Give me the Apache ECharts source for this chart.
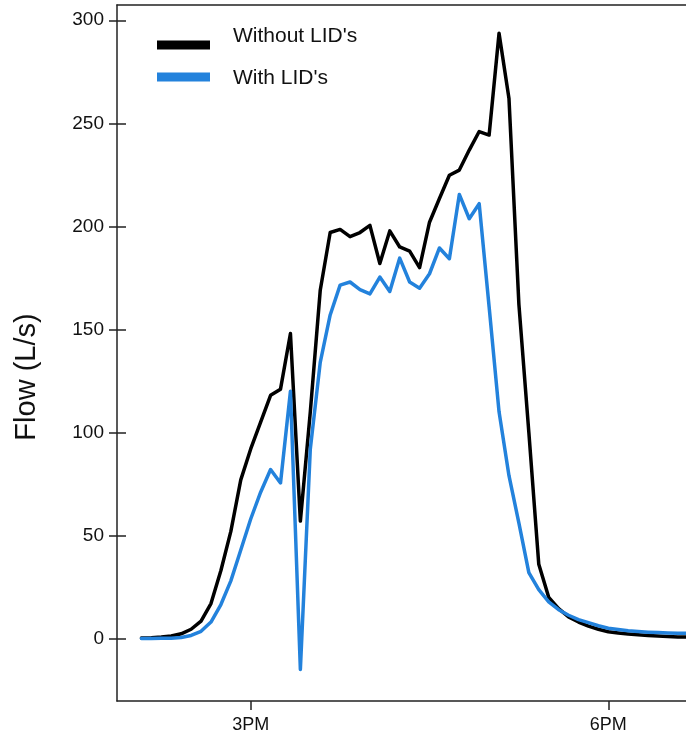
<!DOCTYPE html>
<html>
<head>
<meta charset="utf-8">
<script src="https://cdn.jsdelivr.net/npm/echarts@6/dist/echarts.min.js"></script>
<style>
html,body{margin:0;padding:0;background:#fff;}
#chart{width:686px;height:734px;}
</style>
</head>
<body>
<div id="chart"></div>
<script>
// minutes after 12:00 noon
const timeMinutes = [125,130,135,140,145,150,155,160,165,170,175,180,185,190,195,200,205,210,215,220,225,230,235,240,245,250,255,260,265,270,275,280,285,290,295,300,305,310,315,320,325,330,335,340,345,350,355,360,365,370,375,380,385,390,395,400];
const withoutLID = [0.3,0.4,0.7,1.2,2.3,4.5,8.5,17,33,52,77,92,105,118,121,148,57,110,169,197,198.5,195,197,200.5,182,197.8,190,188,180,202,213.5,224.8,227.3,237,246,244.3,293.7,262,162,100,36,20,14.5,10.5,8,6,4.5,3.3,2.7,2.2,1.8,1.5,1.2,1,0.8,0.7];
const withLID = [0,0,0.1,0.2,0.5,1.5,3.5,8,16.5,28,43,58,71,82,75.5,120,-15,92,134,157,171.5,173,169.3,167.2,175.4,168.4,184.6,173,170,177,189.5,184.3,215.5,203.7,211,161,110,79,56,32,23.7,17.8,14,11.3,9.2,7.7,6.2,5,4.4,3.8,3.4,3.1,2.9,2.7,2.6,2.5];
const seriesNames = ["Without LID's", "With LID's"];
const xTickValues = [180, 360];
const xTickLabels = ['3PM', '6PM'];
const yTickValues = [0, 50, 100, 150, 200, 250, 300];
const yAxisTitle = 'Flow (L/s)';

const FONT = 'Liberation Sans, Arial, Helvetica, sans-serif';
const xMin = 112.7, xMax = 399.1;
const yMin = -30.3, yMax = 307.4;

const pair = (vals) => timeMinutes.map((t, i) => [t, vals[i]]);
const labelFor = (v) => {
  const i = xTickValues.indexOf(Math.round(v));
  return i >= 0 ? xTickLabels[i] : '';
};

const chart = echarts.init(document.getElementById('chart'), null, {renderer: 'canvas'});
chart.setOption({
  animation: false,
  backgroundColor: '#ffffff',
  grid: {left: 117, right: 0, top: 5, bottom: 33, containLabel: false},
  legend: [
    {
      data: [seriesNames[0]], left: 157, top: 25.5, orient: 'vertical', padding: 0,
      icon: 'rect', itemWidth: 53, itemHeight: 9,
      formatter: (n) => '{a|' + n + '}',
      textStyle: {fontFamily: FONT, fontSize: 21, color: '#111',
        rich: {a: {fontFamily: FONT, fontSize: 21, color: '#111', padding: [0, 0, 18, 18]}}},
      selectedMode: false
    },
    {
      data: [seriesNames[1]], left: 157, top: 67.5, orient: 'vertical', padding: 0,
      icon: 'rect', itemWidth: 53, itemHeight: 9,
      formatter: (n) => '{a|' + n + '}',
      textStyle: {fontFamily: FONT, fontSize: 21, color: '#111',
        rich: {a: {fontFamily: FONT, fontSize: 21, color: '#111', padding: [2, 0, 0, 18]}}},
      selectedMode: false
    }
  ],
  xAxis: [
    {
      type: 'value', min: xMin, max: xMax, position: 'bottom',
      splitLine: {show: false},
      axisLine: {show: true, onZero: false, lineStyle: {color: '#222', width: 1.5}},
      axisTick: {show: true, customValues: xTickValues, length: 9, inside: false, lineStyle: {color: '#222', width: 1.5}},
      axisLabel: {show: true, customValues: xTickValues, formatter: labelFor, margin: 15,
        fontFamily: FONT, fontSize: 18, color: '#111'}
    },
    {
      type: 'value', min: xMin, max: xMax, position: 'top',
      splitLine: {show: false},
      axisLine: {show: true, onZero: false, lineStyle: {color: '#222', width: 1.5}},
      axisTick: {show: false}, axisLabel: {show: false}
    }
  ],
  yAxis: [
    {
      type: 'value', min: yMin, max: yMax, position: 'left',
      name: yAxisTitle, nameLocation: 'middle', nameGap: 76,
      nameTextStyle: {fontFamily: FONT, fontSize: 29, color: '#111', padding: [0, 48, 0, 0]},
      splitLine: {show: false},
      axisLine: {show: true, onZero: false, lineStyle: {color: '#222', width: 1.5}},
      axisTick: {show: true, customValues: yTickValues, length: 8, inside: false, lineStyle: {color: '#222', width: 1.5}},
      axisLabel: {show: true, customValues: yTickValues, margin: 13, fontFamily: FONT, fontSize: 19, color: '#111'}
    },
    {
      type: 'value', min: yMin, max: yMax, position: 'left',
      splitLine: {show: false},
      axisLine: {show: false, onZero: false},
      axisTick: {show: true, customValues: yTickValues, length: 9, inside: true, lineStyle: {color: '#222', width: 1.5}},
      axisLabel: {show: false}
    }
  ],
  series: [
    {
      name: seriesNames[0], type: 'line', data: pair(withoutLID),
      xAxisIndex: 0, yAxisIndex: 0,
      showSymbol: false, symbol: 'none', clip: true,
      itemStyle: {color: '#000000'},
      lineStyle: {color: '#000000', width: 3.5, join: 'round', cap: 'round'}
    },
    {
      name: seriesNames[1], type: 'line', data: pair(withLID),
      xAxisIndex: 0, yAxisIndex: 0,
      showSymbol: false, symbol: 'none', clip: true,
      itemStyle: {color: '#2382dc'},
      lineStyle: {color: '#2382dc', width: 3.5, join: 'round', cap: 'round'}
    }
  ]
});
</script>
</body>
</html>
